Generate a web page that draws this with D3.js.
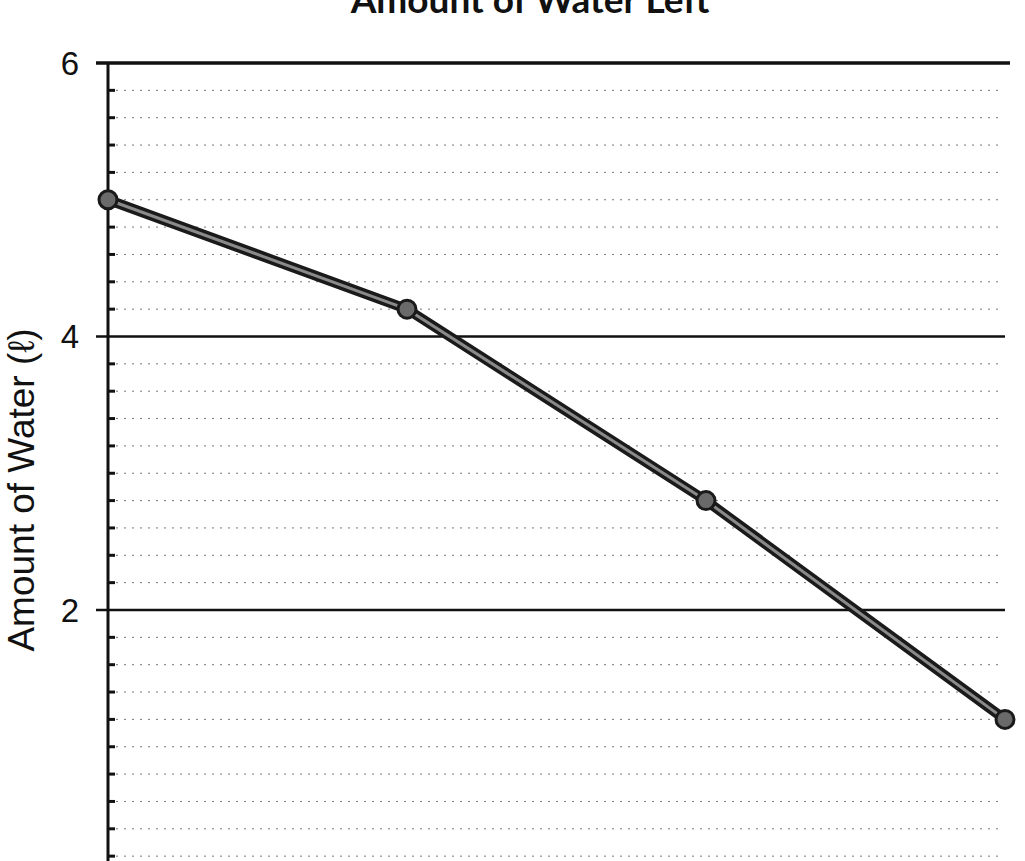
<!DOCTYPE html>
<html>
<head>
<meta charset="utf-8">
<script src="https://cdn.jsdelivr.net/npm/d3@7"></script>
<style>
  html, body { margin: 0; padding: 0; background: #fff; }
  svg { display: block; overflow: hidden; }
</style>
</head>
<body>
<svg id="chart" width="1025" height="861"></svg>
<script>
// ---- data ----
const categories = ["0", "1", "2", "3"];
const waterValues = [5.0, 4.2, 2.8, 1.2];
const majorTicks = [2, 4, 6];
const minorTicks = [0.2, 0.4, 0.6, 0.8, 1.0, 1.2, 1.4, 1.6, 1.8,
                    2.2, 2.4, 2.6, 2.8, 3.0, 3.2, 3.4, 3.6, 3.8,
                    4.2, 4.4, 4.6, 4.8, 5.0, 5.2, 5.4, 5.6, 5.8];
const titleText = "Amount of Water Left";
const yLabelText = "Amount of Water (ℓ)";

// ---- layout ----
const W = 1025, H = 861;
const x0 = 108, x1 = 1005;
const svg = d3.select("#chart");

const x = d3.scalePoint().domain(categories).range([x0, x1]);
const y = d3.scaleLinear().domain([0, 6]).range([883.5, 63]);

// minor dotted grid lines
svg.append("g").selectAll("line").data(minorTicks).join("line")
  .attr("x1", x0).attr("x2", 1000)
  .attr("y1", d => y(d)).attr("y2", d => y(d))
  .attr("stroke", "#777").attr("stroke-width", 1)
  .attr("stroke-dasharray", "2,6");

// minor ticks (inside)
svg.append("g").selectAll("line").data(minorTicks).join("line")
  .attr("x1", x0).attr("x2", x0 + 7)
  .attr("y1", d => y(d)).attr("y2", d => y(d))
  .attr("stroke", "#111").attr("stroke-width", 3);

// major grid lines
svg.append("g").selectAll("line").data(majorTicks).join("line")
  .attr("x1", x0 - 12).attr("x2", d => d === 6 ? 1010 : 1005)
  .attr("y1", d => y(d)).attr("y2", d => y(d))
  .attr("stroke", "#111").attr("stroke-width", d => d === 6 ? 3.5 : 2.5);

// y axis line
svg.append("line")
  .attr("x1", x0).attr("x2", x0)
  .attr("y1", y(6)).attr("y2", H)
  .attr("stroke", "#111").attr("stroke-width", 3);

// tick labels
svg.append("g").selectAll("text").data(majorTicks).join("text")
  .attr("x", 79).attr("y", d => y(d))
  .attr("dy", "0.36em")
  .attr("text-anchor", "end")
  .attr("font-family", "Liberation Sans, Arial, sans-serif")
  .attr("font-size", 33)
  .attr("fill", "#111")
  .text(d => d);

// y label
svg.append("text")
  .attr("transform", `translate(34, 490) rotate(-90)`)
  .attr("text-anchor", "middle")
  .attr("font-family", "Liberation Sans, Arial, sans-serif")
  .attr("font-size", 37)
  .attr("fill", "#111")
  .text(yLabelText);

// title (cut off at top, as in the reference)
svg.append("text")
  .attr("x", 530).attr("y", 13)
  .attr("text-anchor", "middle")
  .attr("font-family", "Lato, sans-serif")
  .attr("font-weight", "bold")
  .attr("font-size", 37)
  .attr("fill", "#111")
  .text(titleText);

// data line
const line = d3.line().x((d, i) => x(categories[i])).y(d => y(d));
svg.append("path").datum(waterValues)
  .attr("d", line).attr("fill", "none")
  .attr("stroke", "#1a1a1a").attr("stroke-width", 10)
  .attr("stroke-linejoin", "round");
svg.append("path").datum(waterValues)
  .attr("d", line).attr("fill", "none")
  .attr("stroke", "#8a8a8a").attr("stroke-width", 3)
  .attr("stroke-linejoin", "round");

// markers
svg.append("g").selectAll("circle").data(waterValues).join("circle")
  .attr("cx", (d, i) => x(categories[i])).attr("cy", d => y(d))
  .attr("r", 9)
  .attr("fill", "#6a6a6a").attr("stroke", "#1a1a1a").attr("stroke-width", 3);
</script>
</body>
</html>
